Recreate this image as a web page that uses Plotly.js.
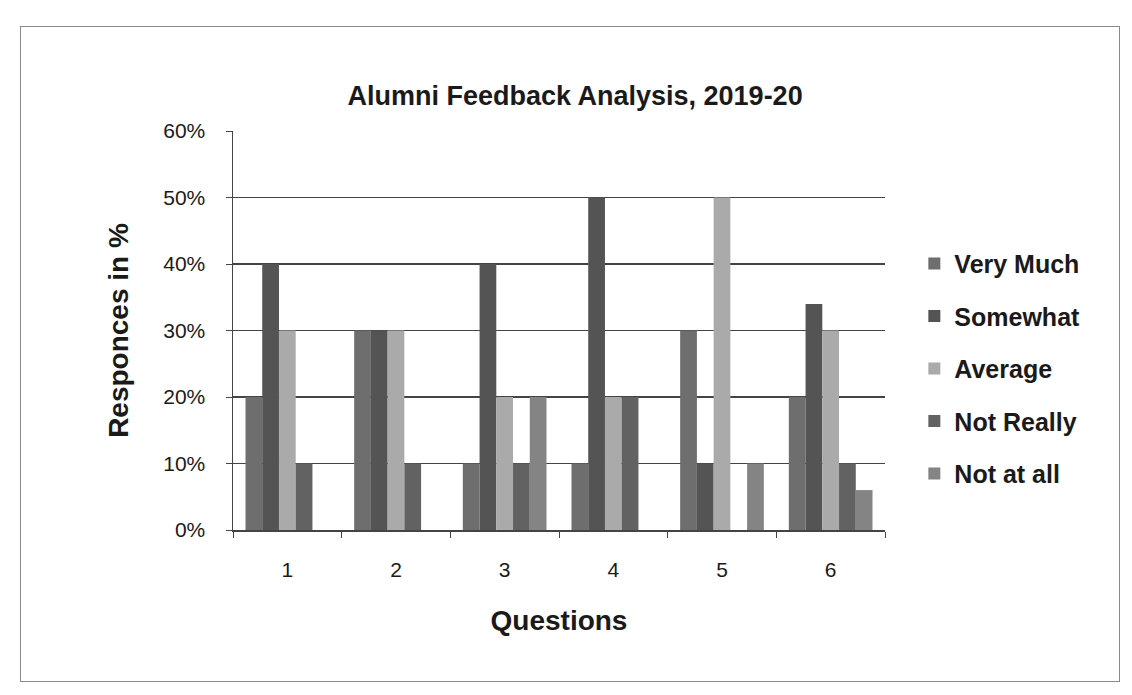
<!DOCTYPE html>
<html>
<head>
<meta charset="utf-8">
<script src="https://cdn.plot.ly/plotly-3.0.1.min.js"></script>
<style>
  html, body { margin:0; padding:0; background:#ffffff; }
  #wrap { position:relative; width:1132px; height:695px; }
  #chart { position:absolute; left:0; top:0; width:1132px; height:695px; }
  #frame { position:absolute; left:20px; top:26px; width:1098px; height:654px;
           border:1.5px solid #8a8a8a; pointer-events:none; }
</style>
</head>
<body>
<div id="wrap">
  <div id="chart"></div>
  <div id="frame"></div>
</div>
<script>
const questions = ['1', '2', '3', '4', '5', '6'];
const veryMuch  = [0.20, 0.30, 0.10, 0.10, 0.30, 0.20];
const somewhat  = [0.40, 0.30, 0.40, 0.50, 0.10, 0.34];
const average   = [0.30, 0.30, 0.20, 0.20, 0.50, 0.30];
const notReally = [0.10, 0.10, 0.10, 0.20, 0.00, 0.10];
const notAtAll  = [0.00, 0.00, 0.20, 0.00, 0.10, 0.06];
const seriesNames = ['Very Much', 'Somewhat', 'Average', 'Not Really', 'Not at all'];
const seriesColors = ['#6e6e6e', '#545454', '#aaaaaa', '#626262', '#848484'];

const seriesValues = [veryMuch, somewhat, average, notReally, notAtAll];
const traces = seriesValues.map((vals, i) => ({
  type: 'bar',
  name: seriesNames[i],
  x: questions,
  y: vals,
  legendgroup: 'g' + i,
  marker: { color: seriesColors[i], line: { width: 0 } }
}));

const layout = {
  width: 1132,
  height: 695,
  paper_bgcolor: '#ffffff',
  plot_bgcolor: '#ffffff',
  margin: { l: 233, r: 247, t: 131, b: 165 },
  font: { family: 'Arial, "Liberation Sans", sans-serif', color: '#1a1a1a' },
  title: {
    text: 'Alumni Feedback Analysis, 2019-20',
    font: { size: 27, weight: 'bold', color: '#1a1a1a' },
    x: 0.508, xanchor: 'center',
    y: 0.862, yanchor: 'middle'
  },
  barmode: 'group',
  bargap: 0.23,
  bargroupgap: 0,
  xaxis: {
    type: 'category',
    title: { text: 'Questions', font: { size: 28, weight: 'bold' }, standoff: 30 },
    tickfont: { size: 21 },
    showline: true, linecolor: '#444444', linewidth: 1.5,
    ticks: 'outside', tickson: 'boundaries', ticklen: 6, tickcolor: '#444444',
    ticklabelstandoff: 20,
    showgrid: false, zeroline: false
  },
  yaxis: {
    title: { text: 'Responces in %', font: { size: 28, weight: 'bold' }, standoff: 26 },
    range: [0, 0.6],
    tickvals: [0, 0.1, 0.2, 0.3, 0.4, 0.5, 0.6],
    tickformat: '.0%',
    tickfont: { size: 21 },
    showline: true, linecolor: '#444444', linewidth: 1.5,
    ticks: 'outside', ticklen: 6, tickcolor: '#444444',
    ticklabelstandoff: 16,
    showgrid: true, gridcolor: '#444444', gridwidth: 1.5,
    zeroline: false
  },
  legend: {
    x: 1.045, xanchor: 'left',
    y: 0.725, yanchor: 'top',
    font: { size: 25, weight: 'bold', color: '#1a1a1a' },
    traceorder: 'grouped',
    tracegroupgap: 17,
    itemwidth: 30,
    bgcolor: 'rgba(0,0,0,0)'
  },
  showlegend: true
};

Plotly.newPlot('chart', traces, layout, { displayModeBar: false, staticPlot: true });
</script>
</body>
</html>
